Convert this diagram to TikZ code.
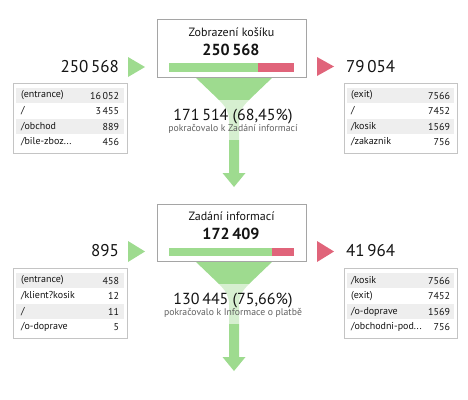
\documentclass[tikz,border=0pt]{standalone}
\usepackage{fontspec}
\setmainfont{PT Sans}
\definecolor{fgreen}{RGB}{158,219,143}
\definecolor{fred}{RGB}{224,100,122}
\definecolor{rowgray}{RGB}{238,238,238}
\definecolor{tborder}{RGB}{196,196,196}
\definecolor{boxborder}{RGB}{165,165,165}
\definecolor{subgray}{RGB}{95,95,95}
\definecolor{txt}{RGB}{20,20,20}
\begin{document}
\begin{tikzpicture}[x=1pt,y=-1pt,
  every node/.style={inner sep=0pt, outer sep=0pt, text=txt},
  stagebox/.style={draw=boxborder, line width=0.8pt, fill=white},
  tablebox/.style={draw=tborder, line width=0.8pt, fill=white},
  rowfill/.style={fill=rowgray},
  funnelfill/.style={fill=fgreen},
  bandfill/.style={fill=white, fill opacity=0.58},
  bigno/.style={font=\fontsize{17}{20}\selectfont},
  titletxt/.style={font=\fontsize{12}{14}\selectfont},
  boldno/.style={font=\fontsize{16}{19}\selectfont\bfseries},
  pcttxt/.style={font=\fontsize{16}{19}\selectfont},
  subtxt/.style={font=\fontsize{9.7}{11}\selectfont, text=subgray},
  celltxt/.style={font=\fontsize{10}{12}\selectfont},
  greenmark/.style={fill=fgreen},
  redmark/.style={fill=fred}]
\useasboundingbox (0,0) rectangle (468,399);

% ================= stage 1 =================
\fill[funnelfill] (195,77) -- (219,100) .. controls (227,108) and (229,113) .. (229,121)
  -- (229,173) -- (222.5,173) -- (234,187) -- (245.5,173) -- (239,173) -- (239,121)
  .. controls (239,113) and (241,108) .. (249,100) -- (273,77) -- cycle;
\fill[bandfill] (190,99.5) rectangle (280,140);
\node[stagebox, minimum width=149pt, minimum height=58pt, anchor=north west] (box1) at (157,19) {};
\node[titletxt, anchor=base] (t1) at (231.5,36.5) {Zobrazení košíku};
\node[boldno, anchor=base] (n1) at (231,55.5) {250\,568};
\fill[fgreen] (169,63) rectangle (258,71.5);
\fill[fred] (258,63) rectangle (294,71.5);
\node[pcttxt, anchor=base] (p1) at (233,120.5) {171\,514 (68,45\%)};
\node[subtxt, anchor=base] (s1) at (233,131.5) {pokračovalo k Zadání informací};

\node[bigno, anchor=base east] (in1) at (119,72.5) {250\,568};
\fill[greenmark] (128,57) -- (145,67) -- (128,77) -- cycle;
\fill[redmark] (317,57) -- (334,66.5) -- (317,76) -- cycle;
\node[bigno, anchor=base west] (out1) at (346,72.5) {79\,054};

% left table 1
\draw[tablebox] (13,83) rectangle (127,153);
\fill[rowfill] (16,87.5) rectangle (124,103);
\fill[rowfill] (16,118.5) rectangle (124,134);
\node[celltxt, anchor=west] (a1) at (21,95.5) {(entrance)};
\node[celltxt, anchor=east] (a1n) at (119,95.5) {16\,052};
\node[celltxt, anchor=west] (a2) at (21,111) {/};
\node[celltxt, anchor=east] (a2n) at (119,111) {3\,455};
\node[celltxt, anchor=west] (a3) at (21,126.5) {/obchod};
\node[celltxt, anchor=east] (a3n) at (119,126.5) {889};
\node[celltxt, anchor=west] (a4) at (21,142) {/bile-zboz...};
\node[celltxt, anchor=east] (a4n) at (119,142) {456};

% right table 1
\draw[tablebox] (344,83) rectangle (457,153);
\fill[rowfill] (347,87.5) rectangle (454,103);
\fill[rowfill] (347,118.5) rectangle (454,134);
\node[celltxt, anchor=west] (b1) at (351,95.5) {(exit)};
\node[celltxt, anchor=east] (b1n) at (450,95.5) {7566};
\node[celltxt, anchor=west] (b2) at (351,111) {/};
\node[celltxt, anchor=east] (b2n) at (450,111) {7452};
\node[celltxt, anchor=west] (b3) at (351,126.5) {/kosik};
\node[celltxt, anchor=east] (b3n) at (450,126.5) {1569};
\node[celltxt, anchor=west] (b4) at (351,142) {/zakaznik};
\node[celltxt, anchor=east] (b4n) at (450,142) {756};

% ================= stage 2 =================
\begin{scope}[yshift=-184pt]
\fill[funnelfill] (195,77) -- (219,100) .. controls (227,108) and (229,113) .. (229,121)
  -- (229,173) -- (222.5,173) -- (234,187) -- (245.5,173) -- (239,173) -- (239,121)
  .. controls (239,113) and (241,108) .. (249,100) -- (273,77) -- cycle;
\fill[bandfill] (190,99.5) rectangle (280,140);
\end{scope}
\node[stagebox, minimum width=149pt, minimum height=57pt, anchor=north west] (box2) at (157,204) {};
\node[titletxt, anchor=base] (t2) at (231.5,220.5) {Zadání informací};
\node[boldno, anchor=base] (n2) at (231,239.5) {172\,409};
\fill[fgreen] (169,247.5) rectangle (272,256);
\fill[fred] (272,247.5) rectangle (294,256);
\node[pcttxt, anchor=base] (p2) at (233,304.5) {130\,445 (75,66\%)};
\node[subtxt, anchor=base] (s2) at (233,315.5) {pokračovalo k Informace o platbě};

\node[bigno, anchor=base east] (in2) at (119,256.5) {895};
\fill[greenmark] (128,241) -- (145,251.5) -- (128,262) -- cycle;
\fill[redmark] (317,241) -- (334,251.5) -- (317,262) -- cycle;
\node[bigno, anchor=base west] (out2) at (346,256.5) {41\,964};

% left table 2
\draw[tablebox] (13,268) rectangle (127,338);
\fill[rowfill] (16,272.5) rectangle (124,288);
\fill[rowfill] (16,303.5) rectangle (124,319);
\node[celltxt, anchor=west] (c1) at (21,280.5) {(entrance)};
\node[celltxt, anchor=east] (c1n) at (119,280.5) {458};
\node[celltxt, anchor=west] (c2) at (21,296) {/klient?kosik};
\node[celltxt, anchor=east] (c2n) at (119,296) {12};
\node[celltxt, anchor=west] (c3) at (21,311.5) {/};
\node[celltxt, anchor=east] (c3n) at (119,311.5) {11};
\node[celltxt, anchor=west] (c4) at (21,327) {/o-doprave};
\node[celltxt, anchor=east] (c4n) at (119,327) {5};

% right table 2
\draw[tablebox] (344,268) rectangle (457,338);
\fill[rowfill] (347,272.5) rectangle (454,288);
\fill[rowfill] (347,303.5) rectangle (454,319);
\node[celltxt, anchor=west] (d1) at (351,280.5) {/kosik};
\node[celltxt, anchor=east] (d1n) at (450,280.5) {7566};
\node[celltxt, anchor=west] (d2) at (351,296) {(exit)};
\node[celltxt, anchor=east] (d2n) at (450,296) {7452};
\node[celltxt, anchor=west] (d3) at (351,311.5) {/o-doprave};
\node[celltxt, anchor=east] (d3n) at (450,311.5) {1569};
\node[celltxt, anchor=west] (d4) at (351,327) {/obchodni-pod...};
\node[celltxt, anchor=east] (d4n) at (450,327) {756};
\end{tikzpicture}
\end{document}
